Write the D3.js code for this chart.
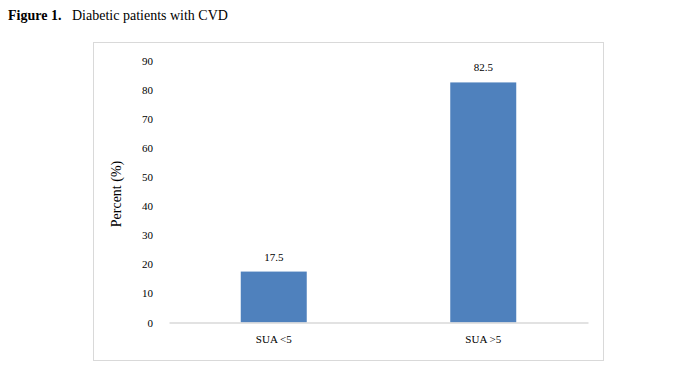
<!DOCTYPE html>
<html>
<head>
<meta charset="utf-8">
<script src="https://cdn.jsdelivr.net/npm/d3@7"></script>
<style>
  html, body { margin: 0; padding: 0; background: #fff; }
  svg { display: block; }
  text { font-family: "Liberation Serif", "Times New Roman", serif; fill: #000; }
</style>
</head>
<body>
<svg id="chart" width="691" height="392"></svg>
<script>
const categories = ["SUA <5", "SUA >5"];
const values = [17.5, 82.5];
const valueLabels = ["17.5", "82.5"];
const yTicks = [0, 10, 20, 30, 40, 50, 60, 70, 80, 90];
const titleBold = "Figure 1.";
const titleRest = "Diabetic patients with CVD";
const yTitle = "Percent (%)";

const svg = d3.select("#chart");

// Title
svg.append("text").attr("x", 8).attr("y", 20)
  .style("font-size", "14px").style("font-weight", "bold").text(titleBold);
svg.append("text").attr("x", 72).attr("y", 20)
  .style("font-size", "14px").text(titleRest);

// Frame
svg.append("rect").attr("x", 93.5).attr("y", 42.5).attr("width", 510).attr("height", 318)
  .attr("fill", "none").attr("stroke", "#d9d9d9").attr("stroke-width", 1);

const x = d3.scaleBand().domain(categories).range([169, 588]).padding(0);
const y = d3.scaleLinear().domain([0, 90]).range([322.5, 60.6]);
const barFrac = 0.315;
const bw = x.bandwidth() * barFrac;

// Y tick labels
const yAxis = d3.axisLeft(y).tickValues(yTicks).tickSize(0).tickPadding(0);
const gy = svg.append("g").attr("transform", "translate(153,0)").call(yAxis);
gy.select(".domain").remove();
gy.selectAll("text")
  .style("font-family", '"Liberation Serif", "Times New Roman", serif')
  .style("font-size", "11px").attr("fill", "#000");

// Bars
svg.append("g").selectAll("rect").data(values).enter().append("rect")
  .attr("x", (d, i) => x(categories[i]) + (x.bandwidth() - bw) / 2)
  .attr("y", d => y(d))
  .attr("width", bw)
  .attr("height", d => y(0) - y(d))
  .attr("fill", "#4f81bd");

// Axis baseline
const xAxis = d3.axisBottom(x).tickSize(0).tickPadding(13);
const gx = svg.append("g").attr("transform", `translate(0,${y(0)})`).call(xAxis);
gx.select(".domain").attr("stroke", "#d9d9d9").attr("stroke-width", 1.3);
gx.selectAll("text")
  .style("font-family", '"Liberation Serif", "Times New Roman", serif')
  .style("font-size", "11px").attr("fill", "#000");

// Value labels
svg.append("g").selectAll("text").data(values).enter().append("text")
  .attr("x", (d, i) => x(categories[i]) + x.bandwidth() / 2)
  .attr("y", d => y(d) - 11)
  .attr("text-anchor", "middle")
  .style("font-size", "11px")
  .text((d, i) => valueLabels[i]);

// Y title
svg.append("text")
  .attr("transform", "translate(121,194) rotate(-90)")
  .attr("text-anchor", "middle")
  .style("font-size", "14px")
  .text(yTitle);
</script>
</body>
</html>
